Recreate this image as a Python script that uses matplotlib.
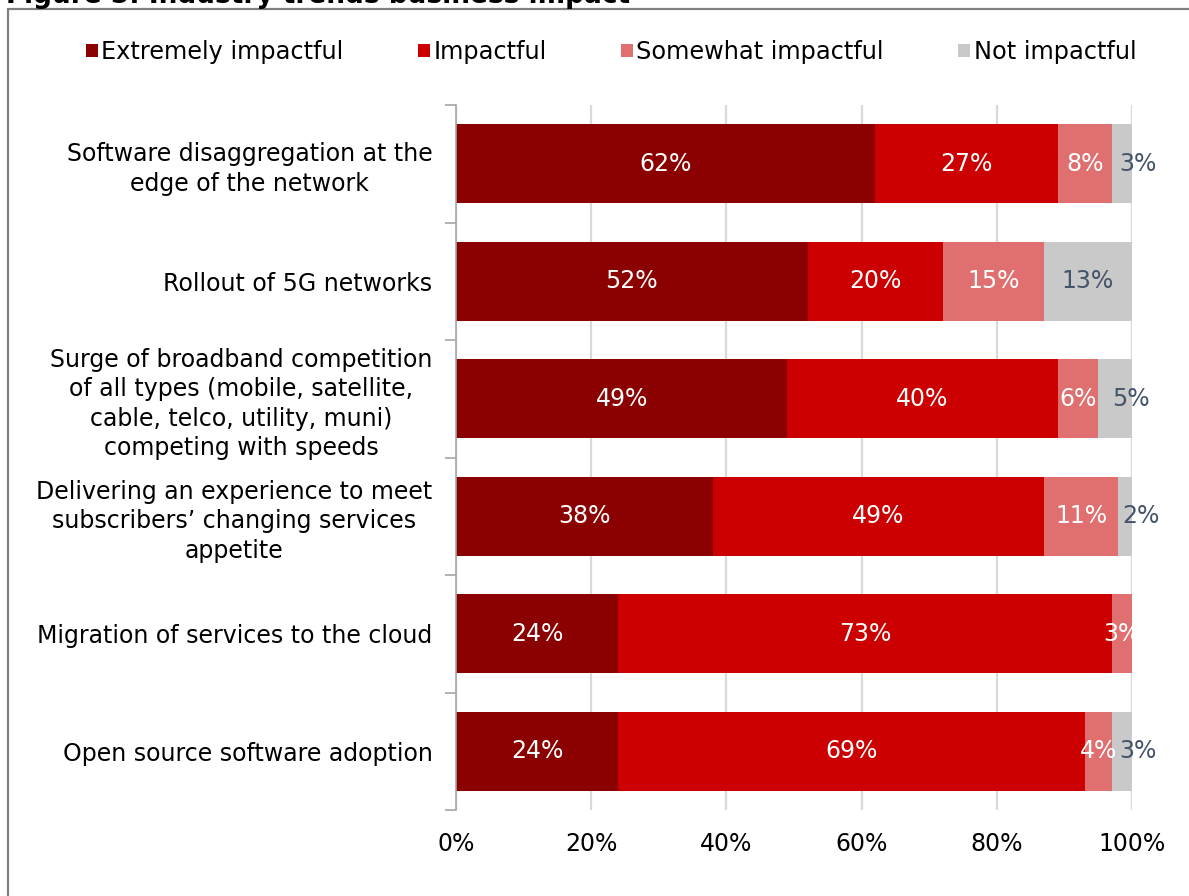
import matplotlib
matplotlib.use("Agg")
import matplotlib.pyplot as plt
from matplotlib.patches import Rectangle, Patch
from matplotlib.ticker import FixedLocator, PercentFormatter

plt.rcParams["font.family"] = ["DejaVu Sans"]

# Survey data: share of respondents per impact level (percent)
categories = [
    "Software disaggregation at the\nedge of the network",
    "Rollout of 5G networks",
    "Surge of broadband competition\nof all types (mobile, satellite,\ncable, telco, utility, muni)\ncompeting with speeds",
    "Delivering an experience to meet\nsubscribers\u2019 changing services\nappetite",
    "Migration of services to the cloud",
    "Open source software adoption",
]
series_names = ["Extremely impactful", "Impactful", "Somewhat impactful", "Not impactful"]
extremely = [62, 52, 49, 38, 24, 24]
impactful = [27, 20, 40, 49, 73, 69]
somewhat = [8, 15, 6, 11, 3, 4]
not_impactful = [3, 13, 5, 2, 0, 3]
x_ticks = [0, 20, 40, 60, 80, 100]

colors = ["#8B0000", "#CC0000", "#E06F6F", "#C9C9C9"]
label_colors = ["white", "white", "white", "#44546A"]

fig = plt.figure(figsize=(11.89, 8.96), dpi=100)
W, H = 1189, 896
ax = fig.add_axes([456 / W, 1 - 810 / H, (1132 - 456) / W, (810 - 105) / H])

ypos = list(range(len(categories)))
left = [0] * len(categories)
all_series = [extremely, impactful, somewhat, not_impactful]
for k, (vals, name, col, lcol) in enumerate(zip(all_series, series_names, colors, label_colors)):
    bars = ax.barh(ypos, vals, left=left, height=0.67, color=col, label=name, zorder=2)
    last = k == len(all_series) - 1
    for b, v in zip(bars, vals):
        if v <= 0:
            continue
        cx = b.get_x() + b.get_width() / 2
        cy = b.get_y() + b.get_height() / 2
        if last and v < 6:
            # narrow end segments: label starts at the segment middle and runs past the bar
            ax.text(cx - 0.4, cy, f"{v}%", ha="left", va="center", color=lcol,
                    fontsize=17, zorder=3, clip_on=False)
        else:
            ax.text(cx, cy, f"{v}%", ha="center", va="center", color=lcol,
                    fontsize=17, zorder=3, clip_on=False)
    left = [l + v for l, v in zip(left, vals)]

ax.set_xlim(0, 100)
ax.set_ylim(len(categories) - 0.5, -0.5)
ax.xaxis.set_major_locator(FixedLocator(x_ticks))
ax.xaxis.set_major_formatter(PercentFormatter(decimals=0))
ax.set_yticks(ypos)
ax.set_yticklabels(categories, fontsize=17, linespacing=1.28)
for lab in ax.get_yticklabels():
    lab.set_multialignment("center")
ax.yaxis.set_minor_locator(FixedLocator([i - 0.5 for i in range(len(categories) + 1)]))
ax.tick_params(axis="y", which="major", length=0, pad=17)
ax.tick_params(axis="y", which="minor", length=8, width=1.2, color="#A6A6A6", direction="out")
ax.tick_params(axis="x", length=0, pad=16, labelsize=17, labelcolor="black")

ax.grid(axis="x", color="#D9D9D9", linewidth=1.6, zorder=0)
for s in ["top", "right", "bottom"]:
    ax.spines[s].set_visible(False)
ax.spines["left"].set_color("#A6A6A6")
ax.spines["left"].set_linewidth(1.2)
ax.spines["left"].set_zorder(4)

handles = [Patch(facecolor=c, edgecolor="none") for c in colors]
fig.legend(handles, series_names, loc="center", bbox_to_anchor=(611 / W, 1 - 52 / H),
           ncol=4, frameon=False, fontsize=17.25, handlelength=0.5, handleheight=0.5,
           handletextpad=0.15, columnspacing=3.1)

# Frame around the figure panel
fig.add_artist(Rectangle((8 / W, -0.2), 1.2, 1.2 - 9 / H, transform=fig.transFigure,
                         fill=False, edgecolor="#808080", linewidth=1.6))
fig.text(6 / W, 1 - 3 / H, "Figure 5: Industry trends business impact", fontsize=19,
         fontweight="bold", ha="left", va="baseline")

fig.savefig("out.png", dpi=100)
